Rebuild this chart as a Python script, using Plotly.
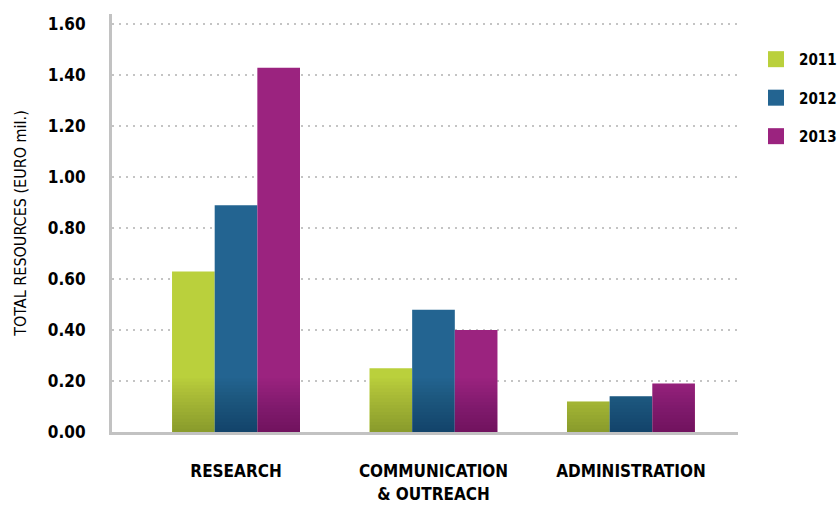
import plotly.graph_objects as go

# ---- data -------------------------------------------------------------
categories = ["RESEARCH", "COMMUNICATION<br>& OUTREACH", "ADMINISTRATION"]
years = ["2011", "2012", "2013"]
values_2011 = [0.63, 0.25, 0.12]
values_2012 = [0.89, 0.48, 0.14]
values_2013 = [1.43, 0.40, 0.19]
y_tick_values = [0.0, 0.2, 0.4, 0.6, 0.8, 1.0, 1.2, 1.4, 1.6]
y_tick_labels = ["0.00", "0.20", "0.40", "0.60", "0.80", "1.00", "1.20", "1.40", "1.60"]

series = [values_2011, values_2012, values_2013]
colors = ["#BAD03C", "#236491", "#9B237F"]

FONT = "Liberation Sans Narrow, DejaVu Sans Condensed, Arial Narrow, sans-serif"

bar_w = 0.216
offsets = [-1.5 * bar_w, -0.5 * bar_w, 0.5 * bar_w]

# darkening band at the foot of the bars (stacked translucent layers)
shade_top = 0.21
shade_layers = 16
shade_alpha = 0.017

fig = go.Figure()

for name, vals, col, off in zip(years, series, colors, offsets):
    fig.add_trace(go.Bar(
        x=categories, y=vals, name=name,
        marker=dict(color=col, line=dict(width=0)),
        width=bar_w, offset=off, showlegend=False,
        hoverinfo="x+y+name",
    ))
    for k in range(1, shade_layers + 1):
        cap = shade_top * k / shade_layers
        fig.add_trace(go.Bar(
            x=categories, y=[min(v, cap) for v in vals],
            marker=dict(color=f"rgba(0,0,0,{shade_alpha})", line=dict(width=0)),
            width=bar_w, offset=off, showlegend=False, hoverinfo="skip",
        ))

# legend entries
for name, col in zip(years, colors):
    fig.add_trace(go.Scatter(
        x=[None], y=[None], mode="markers", name=name, legendgroup=name,
        marker=dict(symbol="square", size=18, color=col),
    ))

fig.update_layout(
    width=839, height=505,
    margin=dict(l=112, r=101, t=14, b=73, autoexpand=False),
    paper_bgcolor="white", plot_bgcolor="white",
    barmode="overlay",
    font=dict(family=FONT, color="black"),
    showlegend=True,
    legend=dict(
        xref="container", yref="container",
        x=0.8975, xanchor="left", y=0.915, yanchor="top",
        font=dict(family=FONT, size=15, color="black", weight="bold"),
        tracegroupgap=16, itemwidth=36,
        bgcolor="rgba(0,0,0,0)",
    ),
    xaxis=dict(
        type="category", range=[-0.628, 2.542],
        showgrid=False, zeroline=False, automargin=False,
        showline=True, linecolor="#C2C2C2", linewidth=3,
        ticks="", ticklabelstandoff=22,
        tickfont=dict(family=FONT, size=17, color="black", weight="bold"),
    ),
    yaxis=dict(
        range=[0, 1.641], automargin=False,
        tickvals=y_tick_values, ticktext=y_tick_labels,
        showgrid=True, gridcolor="#C4C4C4", gridwidth=2, griddash="2px,5px",
        zeroline=False,
        showline=True, linecolor="#C2C2C2", linewidth=3,
        ticks="", ticklabelstandoff=20,
        tickfont=dict(family=FONT, size=17, color="black", weight="bold"),
        title=dict(text="TOTAL RESOURCES (EURO mil.)", standoff=18,
                   font=dict(family=FONT, size=16, color="black")),
    ),
)

fig.write_html("out.html")
